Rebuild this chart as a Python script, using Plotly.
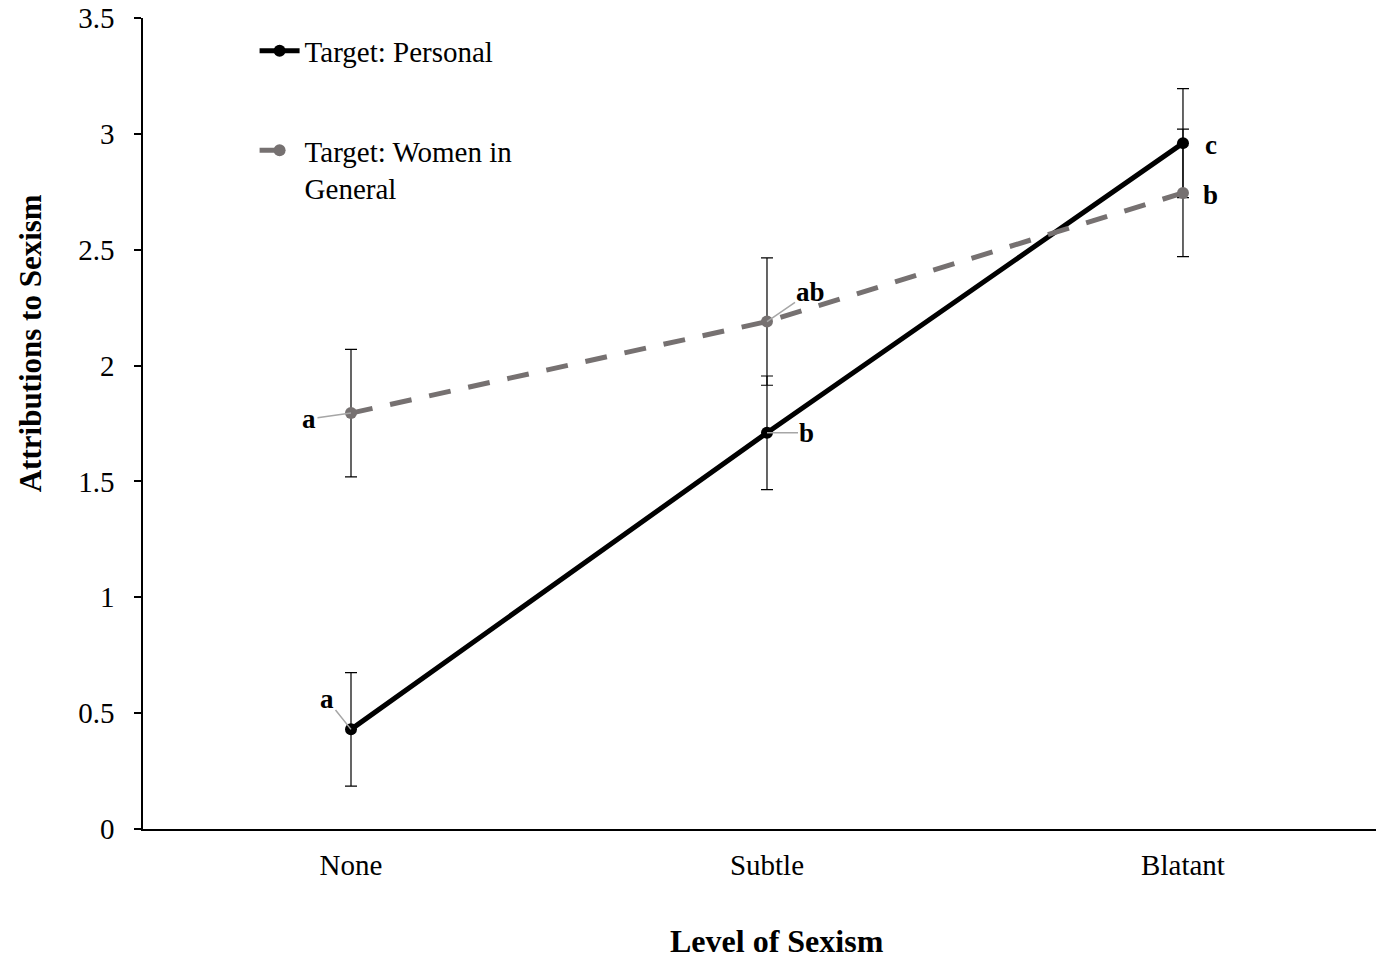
import plotly.graph_objects as go

categories = ["None", "Subtle", "Blatant"]
personal = [0.43, 1.71, 2.96]
personal_err = [0.245, 0.245, 0.235]
women = [1.795, 2.19, 2.745]
women_err = [0.275, 0.275, 0.275]
personal_letters = ["a", "b", "c"]
women_letters = ["a", "ab", "b"]
yticks = [0, 0.5, 1, 1.5, 2, 2.5, 3, 3.5]

FONT = "Liberation Serif"
GREY = "#767171"

x_idx = list(range(len(categories)))

fig = go.Figure()
fig.add_trace(go.Scatter(
    x=x_idx, y=personal, mode="lines+markers", name="Target: Personal", legendgroup="p",
    line=dict(color="black", width=5),
    marker=dict(color="black", size=12),
    error_y=dict(type="data", array=personal_err, color="black", thickness=1.2, width=6),
))
fig.add_trace(go.Scatter(
    x=x_idx, y=women, mode="lines+markers", name="Target: Women in<br>General", legendgroup="w",
    line=dict(color=GREY, width=5, dash="22px,18px"),
    marker=dict(color=GREY, size=12),
    error_y=dict(type="data", array=women_err, color="black", thickness=1.2, width=6),
))

# letter annotations with leader lines
p_offsets = [(-24, -30), (40, 0), (28, 2)]
w_offsets = [(-42, 6), (44, -30), (28, 2)]
for i, (lab, (ax, ay)) in enumerate(zip(personal_letters, p_offsets)):
    fig.add_annotation(x=i, y=personal[i], text="<b>%s</b>" % lab, showarrow=(i != 2),
                       arrowhead=0, arrowcolor="#a6a6a6", arrowwidth=1.5,
                       ax=ax, ay=ay, xshift=0 if i != 2 else 28, yshift=0 if i != 2 else -2,
                       font=dict(family=FONT, size=27, color="black"))
for i, (lab, (ax, ay)) in enumerate(zip(women_letters, w_offsets)):
    fig.add_annotation(x=i, y=women[i], text="<b>%s</b>" % lab, showarrow=(i != 2),
                       arrowhead=0, arrowcolor="#a6a6a6", arrowwidth=1.5,
                       ax=ax, ay=ay, xshift=0 if i != 2 else 28, yshift=0 if i != 2 else -2,
                       font=dict(family=FONT, size=27, color="black"))

fig.add_annotation(x=0.514, y=-0.138, xref="paper", yref="paper", text="<b>Level of Sexism</b>",
                   showarrow=False, font=dict(family=FONT, size=32, color="black"),
                   xanchor="center", yanchor="middle")
fig.add_annotation(x=-0.0916, y=0.599, xref="paper", yref="paper", text="<b>Attributions to Sexism</b>",
                   showarrow=False, textangle=-90, font=dict(family=FONT, size=31, color="black"),
                   xanchor="center", yanchor="middle")

fig.update_layout(
    width=1376, height=958,
    margin=dict(l=143, r=0, t=18, b=129),
    plot_bgcolor="white", paper_bgcolor="white",
    font=dict(family=FONT, size=29, color="black"),
    showlegend=True,
    legend=dict(x=0.0905, y=0.991, xanchor="left", yanchor="top",
                font=dict(family=FONT, size=29, color="black"),
                bgcolor="rgba(0,0,0,0)", tracegroupgap=59, itemwidth=40,
                traceorder="grouped", valign="top"),
    xaxis=dict(
        range=[-0.5, 2.464], tickmode="array", tickvals=x_idx, ticktext=categories,
        showgrid=False, zeroline=False, showline=True, linecolor="black", linewidth=2,
        ticks="", ticklabelstandoff=9, tickfont=dict(family=FONT, size=29),
    ),
    yaxis=dict(
        range=[0, 3.5], tickmode="array", tickvals=yticks,
        ticktext=[("%g" % v) for v in yticks],
        showgrid=False, zeroline=False, showline=True, linecolor="black", linewidth=1.5,
        ticks="outside", ticklen=7, tickcolor="black", tickwidth=1.5,
        ticklabelstandoff=14, tickfont=dict(family=FONT, size=29),
    ),
)

fig.write_html("out.html", config={"displayModeBar": False},
               post_script="document.body.style.margin='0';")
